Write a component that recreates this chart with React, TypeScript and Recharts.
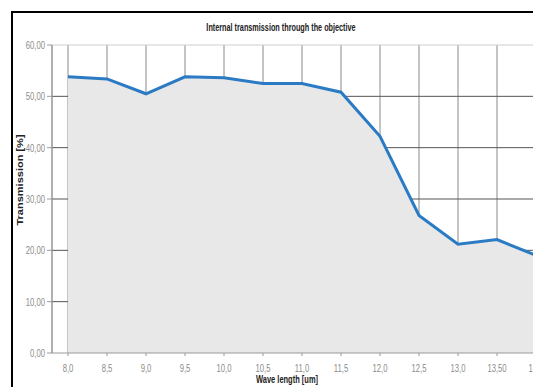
import { ComposedChart, Area, XAxis, YAxis, CartesianGrid, ReferenceLine } from 'recharts';

// wave length categories (as printed on the axis)
const waveLengths = ['8,0', '8,5', '9,0', '9,5', '10,0', '10,5', '11,0', '11,5', '12,0', '12,5', '13,0', '13,50', '14,0'];
// internal transmission [%]
const transmission = [53.8, 53.4, 50.5, 53.8, 53.6, 52.5, 52.5, 50.8, 42.2, 26.8, 21.2, 22.1, 19.0];
const yTicks = [0, 10, 20, 30, 40, 50, 60];

const data = waveLengths.map((w, i) => ({ wave: w, value: transmission[i] }));

const font = '"Liberation Sans", Arial, sans-serif';
const squeeze = 0.7; // the reference text is narrow, like a squashed Calibri

const fmt = (v: number) => v.toFixed(2).replace('.', ',');

// tick label drawn narrower than the font
const NarrowTick = (props: any) => {
  const { x, y, payload, textAnchor, tickFormatter, vertical } = props;
  const label = tickFormatter ? tickFormatter(payload.value) : payload.value;
  return (
    <g transform={`translate(${x},${y})`}>
      <text
        transform={`scale(${squeeze},1)`}
        textAnchor={textAnchor}
        dy={vertical ? '0.355em' : '0.71em'}
        fontFamily={font}
        fontSize={11}
        fill="#8c8c8c"
      >
        {label}
      </text>
    </g>
  );
};

const labelStyle = (left: number, top: number, extra: string) => ({
  position: 'absolute' as const,
  left,
  top,
  transform: `translate(-50%, -50%) ${extra}`,
  whiteSpace: 'nowrap' as const,
  fontFamily: font,
  fontWeight: 'bold' as const,
  fontSize: 11,
  color: '#222',
});

const App = () => (
  <div style={{ position: 'absolute', left: 0, top: 0, width: 533, height: 387, overflow: 'hidden', background: '#fff' }}>
    {/* chart frame, cut off at the right and bottom */}
    <div
      style={{
        position: 'absolute',
        left: 11,
        top: 11,
        width: 700,
        height: 500,
        borderLeft: '2px solid #000',
        borderTop: '2px solid #000',
      }}
    />
    <div style={{ position: 'absolute', left: 0, top: 0 }}>
      <ComposedChart width={560} height={387} data={data} margin={{ top: 45, right: 8, bottom: 0, left: 0 }}>
        <CartesianGrid stroke="#8a8a8a" horizontal={false} vertical />
        <CartesianGrid stroke="#555" vertical={false} horizontalValues={[10, 20, 30, 40, 50]} />
        <ReferenceLine y={60} stroke="#cfcfcf" />
        <XAxis
          dataKey="wave"
          padding={{ left: 16, right: 16 }}
          height={34}
          tickSize={3}
          tickMargin={8}
          tick={<NarrowTick />}
          stroke="#9a9a9a"
          interval={0}
        />
        <YAxis
          domain={[0, 60]}
          ticks={yTicks}
          width={52}
          tickSize={5}
          tickMargin={2}
          tickFormatter={fmt}
          tick={<NarrowTick vertical />}
          stroke="#9a9a9a"
        />
        <Area
          type="linear"
          dataKey="value"
          fill="#e8e8e8"
          fillOpacity={1}
          stroke="#2b7bc4"
          strokeWidth={3}
          dot={false}
          activeDot={false}
          isAnimationActive={false}
        />
      </ComposedChart>
    </div>
    <div style={labelStyle(281, 27, 'scaleX(0.66)')}>Internal transmission through the objective</div>
    <div style={labelStyle(287, 379, 'scaleX(0.68)')}>Wave length [um]</div>
    <div style={labelStyle(20, 180, 'scaleX(0.75) rotate(-90deg)')}>Transmission [%]</div>
  </div>
);

export default App;
